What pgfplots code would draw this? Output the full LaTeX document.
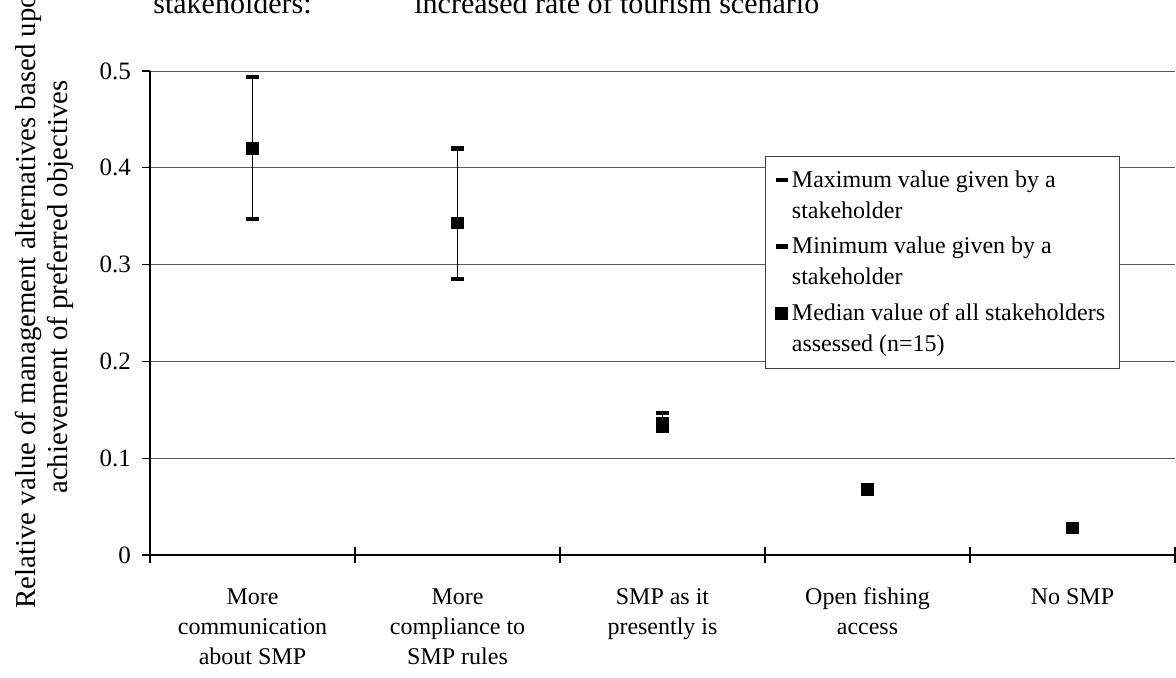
\documentclass[border=0pt]{standalone}
\usepackage{fontspec}
\setmainfont{Liberation Serif}
\usepackage{pgfplots}
\usepackage{pgfplotstable}
\pgfplotsset{compat=1.18}

\pgfplotstableread{
x   max    min    med
0   0.494  0.347  0.420
1   0.420  0.285  0.343
2   0.147  0.128  0.136
3   0.070  0.067  0.068
4   0.029  0.027  0.028
}\datatable

\begin{document}
\begin{tikzpicture}
\begin{axis}[
  at={(0,0)}, anchor=south west,
  scale only axis,
  width=512.5pt, height=242pt,
  xmin=-0.5, xmax=4.5,
  ymin=0, ymax=0.5,
  axis x line*=bottom,
  axis y line*=left,
  axis line style={black, line width=0.6pt},
  tick align=outside,
  xtick={0,1,2,3,4},
  major x tick style={draw=none},
  minor xtick={-0.5,0.5,1.5,2.5,3.5,4.5},
  minor x tick style={black, line width=0.6pt, yshift=4pt},
  minor tick length=8pt,
  xticklabels={{\vphantom{Mf}More\\communication\\about SMP},{\vphantom{Mf}More\\compliance to\\SMP rules},{\vphantom{Mf}SMP as it\\presently is},{\vphantom{Mf}Open fishing\\access},{\vphantom{Mf}No SMP}},
  xticklabel style={align=center, font=\fontsize{12}{15}\selectfont, yshift=-9pt},
  ytick={0,0.1,0.2,0.3,0.4,0.5},
  yticklabels={0,0.1,0.2,0.3,0.4,0.5},
  major tick length=4pt,
  y tick style={black, line width=0.6pt},
  yticklabel style={font=\fontsize{12.5}{15}\selectfont, xshift=-2pt},
  ymajorgrids,
  grid style={black!65, line width=0.5pt},
  /pgf/number format/assume math mode=true,
  clip=false,
  legend style={
    at={(0.6,0.8244)}, anchor=north west,
    draw=black!75, line width=0.5pt, fill=white,
    font=\fontsize{12}{15.5}\selectfont,
    inner xsep=5pt, inner ysep=5pt,
    row sep=4pt,
    cells={align=left},
  },
  legend cell align=left,
  legend image code/.code={\draw[yshift=8pt, mark repeat=2,mark phase=2] plot coordinates {(0pt,0pt)(6pt,0pt)(12pt,0pt)};},
]
% high-low lines
\addplot[forget plot, draw=none, mark=none,
  error bars/.cd, y dir=both, y explicit, error mark=none,
  error bar style={black, line width=0.6pt}]
  table[x=x, y=med,
        y error plus expr=\thisrow{max}-\thisrow{med},
        y error minus expr=\thisrow{med}-\thisrow{min}] {\datatable};
\addplot[only marks, mark=-, mark size=3.1pt, mark options={line width=2.2pt, black}] table[x=x, y=max] {\datatable};
\addlegendentry{Maximum value given by a\\stakeholder}
\addplot[only marks, mark=-, mark size=3.1pt, mark options={line width=2.2pt, black}] table[x=x, y=min] {\datatable};
\addlegendentry{Minimum value given by a\\stakeholder}
\addplot[only marks, mark=square*, mark size=2.9pt, mark options={black, fill=black}] table[x=x, y=med] {\datatable};
\addlegendentry{Median value of all stakeholders\\assessed (n=15)}
\end{axis}
% y-axis label (two lines)
\node[rotate=90, anchor=base, font=\fontsize{14.4}{16}\selectfont] at ([shift={(-57pt,130.5pt)}]current axis.south west) {Relative value of management alternatives based upon};
\node[rotate=90, anchor=base, font=\fontsize{14.4}{16}\selectfont] at ([shift={(-41pt,134pt)}]current axis.south west) {achievement of preferred objectives};
% title (last line, cut at top)
\node[anchor=base west, inner sep=0pt, font=\fontsize{15}{18}\selectfont] at ([shift={(1.5pt,271pt)}]current axis.south west) {stakeholders:};
\node[anchor=base west, inner sep=0pt, font=\fontsize{15}{18}\selectfont] at ([shift={(132pt,271pt)}]current axis.south west) {increased rate of tourism scenario};
\pgfresetboundingbox
\path[use as bounding box] ([shift={(-75pt,-61pt)}]current axis.south west) rectangle ([shift={(513pt,277.5pt)}]current axis.south west);
\end{tikzpicture}
\end{document}
